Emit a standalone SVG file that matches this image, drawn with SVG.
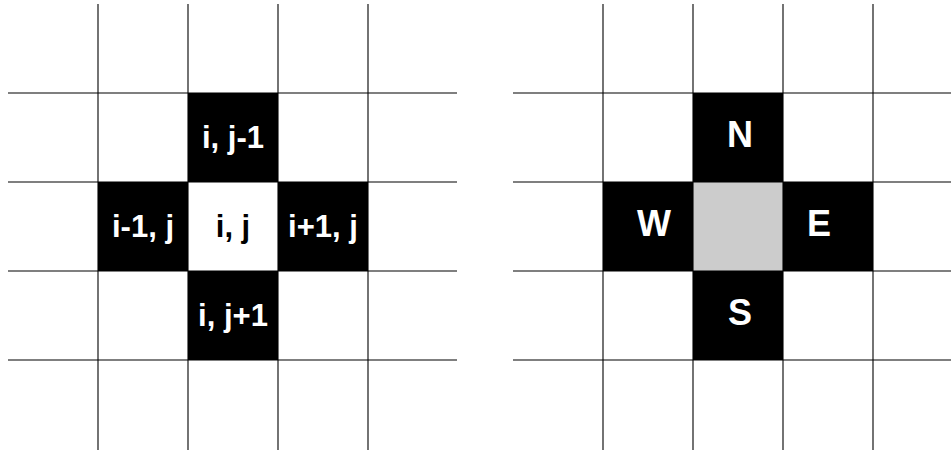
<svg xmlns="http://www.w3.org/2000/svg" width="951" height="450" viewBox="0 0 951 450">
<style>
.grid line{stroke:#000;stroke-width:1.1}
.blk{fill:#000}
.gry{fill:#cccccc}
.lbl{font-family:"Liberation Sans",Arial,sans-serif;font-weight:bold;font-size:31px;fill:#fff;text-anchor:middle}
.dir{font-family:"Liberation Sans",Arial,sans-serif;font-weight:bold;font-size:36px;fill:#fff;text-anchor:middle}
</style>
<rect width="951" height="450" fill="#fff"/>
<g id="left-grid">
<g id="n-ij-1"><rect class="blk" x="188" y="93" width="90" height="89"/><text class="lbl" x="233" y="148">i, j-1</text></g>
<g id="n-i-1j"><rect class="blk" x="98" y="182" width="90" height="89"/><text class="lbl" x="143" y="237">i-1, j</text></g>
<g id="n-ij"><text x="233" y="237" class="lbl" style="fill:#000">i, j</text></g>
<g id="n-i1j"><rect class="blk" x="278" y="182" width="90" height="89"/><text class="lbl" x="323" y="237">i+1, j</text></g>
<g id="n-ij1"><rect class="blk" x="188" y="271" width="90" height="89"/><text class="lbl" x="233" y="326">i, j+1</text></g>
</g>
<g id="right-grid">
<g id="n-N"><rect class="blk" x="693" y="93" width="90" height="89"/><text class="dir" x="740" y="147">N</text></g>
<g id="n-W"><rect class="blk" x="603" y="182" width="90" height="89"/><text class="dir" x="654" y="236">W</text></g>
<g id="n-C"><rect class="gry" x="693" y="182" width="90" height="89"/></g>
<g id="n-E"><rect class="blk" x="783" y="182" width="90" height="89"/><text class="dir" x="819" y="236">E</text></g>
<g id="n-S"><rect class="blk" x="693" y="271" width="90" height="89"/><text class="dir" x="740" y="325">S</text></g>
</g>
<g id="connectors" class="grid">
<line x1="98" y1="4" x2="98" y2="450"/>
<line x1="188" y1="4" x2="188" y2="450"/>
<line x1="278" y1="4" x2="278" y2="450"/>
<line x1="368" y1="4" x2="368" y2="450"/>
<line x1="8" y1="93" x2="457" y2="93"/>
<line x1="8" y1="182" x2="457" y2="182"/>
<line x1="8" y1="271" x2="457" y2="271"/>
<line x1="8" y1="360" x2="457" y2="360"/>
<line x1="603" y1="4" x2="603" y2="450"/>
<line x1="693" y1="4" x2="693" y2="450"/>
<line x1="783" y1="4" x2="783" y2="450"/>
<line x1="873" y1="4" x2="873" y2="450"/>
<line x1="513" y1="93" x2="951" y2="93"/>
<line x1="513" y1="182" x2="951" y2="182"/>
<line x1="513" y1="271" x2="951" y2="271"/>
<line x1="513" y1="360" x2="951" y2="360"/>
</g>
</svg>
